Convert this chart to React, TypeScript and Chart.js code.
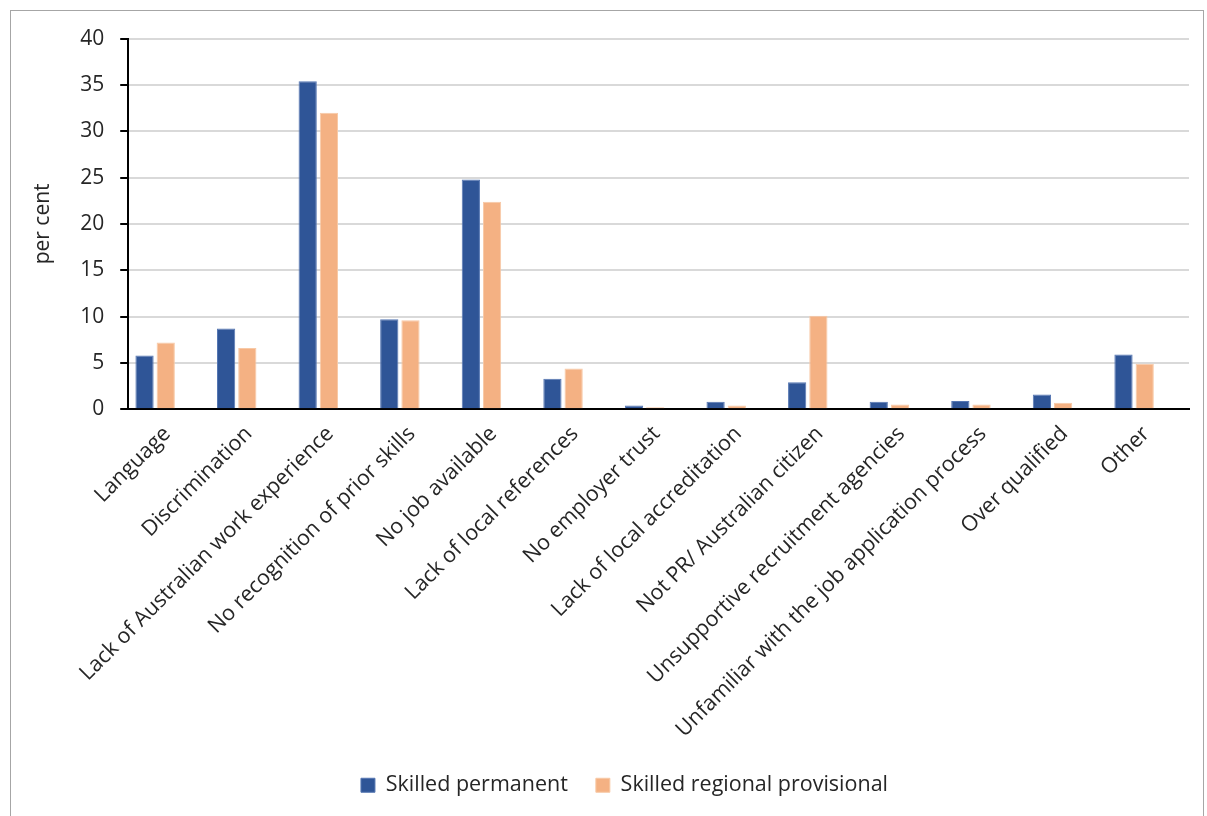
import React, { useEffect, useRef } from "react";
import { Chart, registerables } from "chart.js";

Chart.register(...registerables);

const categories = [
  "Language",
  "Discrimination",
  "Lack of Australian work experience",
  "No recognition of prior skills",
  "No job available",
  "Lack of local references",
  "No employer trust",
  "Lack of local accreditation",
  "Not PR/ Australian citizen",
  "Unsupportive recruitment agencies",
  "Unfamiliar with the job application process",
  "Over qualified",
  "Other",
];

const skilledPermanent = [5.8, 8.7, 35.4, 9.7, 24.8, 3.3, 0.4, 0.8, 2.9, 0.8, 0.9, 1.6, 5.9];
const skilledRegionalProvisional = [7.2, 6.6, 32.0, 9.6, 22.4, 4.4, 0.2, 0.4, 10.1, 0.5, 0.5, 0.7, 4.9];

const yTicks = [0, 5, 10, 15, 20, 25, 30, 35, 40];

const FONT = "'Open Sans', sans-serif";

const legendShift = {
  id: "legendShift",
  afterLayout(chart: any) {
    if (chart.legend) {
      chart.legend.left += 15;
      chart.legend.right += 15;
    }
  },
};

export default function App() {
  const ref = useRef<HTMLCanvasElement | null>(null);

  useEffect(() => {
    if (!ref.current) return;
    const chart = new Chart(ref.current, {
      type: "bar",
      data: {
        datasets: [
          {
            label: "Skilled permanent",
            data: categories.map((_, i) => ({ x: i, y: skilledPermanent[i] })),
            backgroundColor: "#2F5597",
            borderColor: "#5677b3",
            borderWidth: 1,
            categoryPercentage: 0.52,
            barPercentage: 0.86,
          },
          {
            label: "Skilled regional provisional",
            data: categories.map((_, i) => ({ x: i, y: skilledRegionalProvisional[i] })),
            backgroundColor: "#F4B183",
            borderColor: "#f8c9a6",
            borderWidth: 1,
            categoryPercentage: 0.52,
            barPercentage: 0.86,
          },
        ],
      },
      options: {
        responsive: false,
        animation: false,
        devicePixelRatio: 1,
        layout: { padding: { left: 20, right: 17, top: 27, bottom: 10 } },
        plugins: {
          tooltip: { enabled: false },
          legend: {
            position: "bottom",
            labels: {
              boxWidth: 14,
              boxHeight: 14,
              color: "#262626",
              font: { family: FONT, size: 21.5 },
              padding: 28,
            },
          },
        },
        scales: {
          x: {
            type: "linear",
            min: -0.33,
            max: 12.673,
            offset: false,
            afterBuildTicks: (axis: any) => {
              axis.ticks = categories.map((_, i) => ({ value: i }));
            },
            grid: { display: false },
            border: { color: "#000", width: 2 },
            ticks: {
              color: "#262626",
              font: { family: FONT, size: 21.5 },
              maxRotation: 45,
              minRotation: 45,
              autoSkip: false,
              padding: 4,
              labelOffset: 12,
              callback: (v: any) => categories[Math.round(Number(v))] ?? "",
            },
          },
          y: {
            min: 0,
            max: 40,
            afterBuildTicks: (axis: any) => {
              axis.ticks = yTicks.map((v) => ({ value: v }));
            },
            grid: {
              color: "#d9d9d9",
              lineWidth: 2,
              tickColor: "#000",
              tickLength: 8,
            },
            border: { color: "#000", width: 2 },
            ticks: {
              color: "#262626",
              font: { family: FONT, size: 21 },
              padding: 16,
            },
            title: {
              display: true,
              text: "per cent",
              color: "#262626",
              font: { family: FONT, size: 21 },
              padding: { top: 0, bottom: 9 },
            },
          },
        },
      },
      plugins: [legendShift],
    });
    return () => chart.destroy();
  }, []);

  return (
    <div style={{ position: "absolute", left: 0, top: 0, width: 1207, height: 816, background: "#fff" }}>
      <div
        style={{
          position: "absolute",
          left: 10,
          top: 10,
          width: 1194,
          height: 820,
          border: "1px solid #a6a6a6",
          boxSizing: "border-box",
        }}
      />
      <canvas ref={ref} width={1196} height={806} style={{ position: "absolute", left: 10, top: 10 }} />
    </div>
  );
}
